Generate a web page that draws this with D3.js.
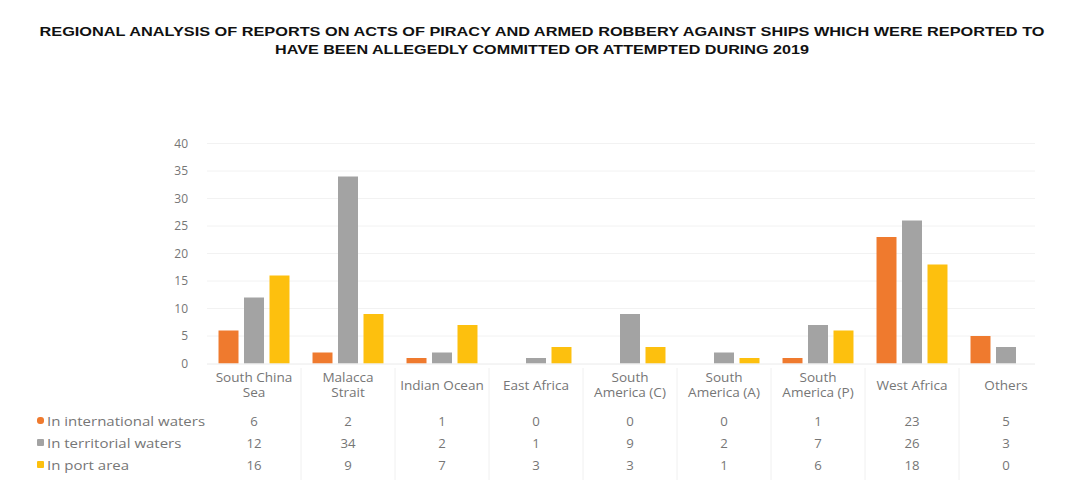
<!DOCTYPE html>
<html>
<head>
<meta charset="utf-8">
<script src="https://cdn.jsdelivr.net/npm/d3@7"></script>
<style>
  html, body { margin: 0; padding: 0; background: #fff; }
  svg { display: block; }
  .title { font-family: "Liberation Sans Narrow", "Arial Narrow", "Liberation Sans", sans-serif; font-weight: bold; font-size: 13px; fill: #111; }
  .lbl { font-family: "Open Sans", "Liberation Sans", sans-serif; font-size: 12px; fill: #767676; }
</style>
</head>
<body>
<svg id="chart" width="1072" height="500"></svg>
<script>
// Regions (categories) and incident counts per location type
const categories = ["South China Sea", "Malacca Strait", "Indian Ocean", "East Africa",
  "South America (C)", "South America (A)", "South America (P)", "West Africa", "Others"];
const categoryLines = [["South China", "Sea"], ["Malacca", "Strait"], ["Indian Ocean"], ["East Africa"],
  ["South", "America (C)"], ["South", "America (A)"], ["South", "America (P)"], ["West Africa"], ["Others"]];
const seriesNames = ["In international waters", "In territorial waters", "In port area"];
const international = [6, 2, 1, 0, 0, 0, 1, 23, 5];
const territorial = [12, 34, 2, 1, 9, 2, 7, 26, 3];
const portArea = [16, 9, 7, 3, 3, 1, 6, 18, 0];
const yTicks = [0, 5, 10, 15, 20, 25, 30, 35, 40];
const titleLines = [
  "REGIONAL ANALYSIS OF REPORTS ON ACTS OF PIRACY AND ARMED ROBBERY AGAINST SHIPS WHICH WERE REPORTED TO",
  "HAVE BEEN ALLEGEDLY COMMITTED OR ATTEMPTED DURING 2019"
];

const series = [international, territorial, portArea];
const colors = ["#ef7a2e", "#a3a3a3", "#fdc00e"];

const svg = d3.select("#chart");

// Text drawn with a slight horizontal stretch
function label(parent, x, y, txt, anchor, sx) {
  parent.append("text").attr("class", "lbl")
    .attr("transform", `translate(${x},${y}) scale(${sx},1)`)
    .attr("text-anchor", anchor).text(txt);
}

// Title
const titleY = [36, 54];
const titleW = [1005, 534];
titleLines.forEach((t, i) => {
  svg.append("text").attr("class", "title")
    .attr("x", 542).attr("y", titleY[i])
    .attr("text-anchor", "middle")
    .attr("textLength", titleW[i]).attr("lengthAdjust", "spacingAndGlyphs")
    .text(t);
});

// Scales
const left = 207, right = 1053;
const x0 = d3.scaleBand().domain(categories).range([left, right]).paddingInner(0.245).paddingOuter(0.1225);
const x1 = d3.scaleBand().domain(d3.range(3)).range([0, x0.bandwidth()]).paddingInner(0.216);
const y = d3.scaleLinear().domain([0, 40]).range([363.5, 143.5]);

// Gridlines
svg.append("g").selectAll("line").data(yTicks.filter(d => d > 0)).join("line")
  .attr("x1", left).attr("x2", 1035)
  .attr("y1", d => y(d)).attr("y2", d => y(d))
  .attr("stroke", "#f2f2f2").attr("stroke-width", 1);

// Y axis tick labels
const yAxis = d3.axisLeft(y).tickValues(yTicks).tickSize(0).tickPadding(0);
const yg = svg.append("g").attr("transform", "translate(188,0)").call(yAxis);
yg.select(".domain").remove();
yg.selectAll("text").attr("class", "lbl").attr("fill", null).style("font-size", "12px");

// Bars
const groups = svg.append("g").selectAll("g").data(categories).join("g")
  .attr("transform", d => `translate(${x0(d)},0)`);
groups.selectAll("rect")
  .data((d, ci) => series.map((s, si) => ({ si, v: s[ci] })))
  .join("rect")
  .attr("x", d => x1(d.si))
  .attr("width", x1.bandwidth())
  .attr("y", d => y(d.v))
  .attr("height", d => y(0) - y(d.v))
  .attr("fill", d => colors[d.si]);

// Baseline
svg.append("line").attr("x1", left).attr("x2", 1035)
  .attr("y1", y(0) + 0.5).attr("y2", y(0) + 0.5).attr("stroke", "#eaeaea");

// Data table: vertical separators
const step = x0.step();
const boundaries = d3.range(1, categories.length).map(i => left + i * step);
svg.append("g").selectAll("line").data(boundaries).join("line")
  .attr("x1", d => d).attr("x2", d => d)
  .attr("y1", 368).attr("y2", 480)
  .attr("stroke", "#f0f0f0");

// Category labels
categories.forEach((c, i) => {
  const cx = x0(c) + x0.bandwidth() / 2;
  const lines = categoryLines[i];
  const y0 = lines.length === 2 ? 382 : 390;
  lines.forEach((ln, j) => label(svg, cx, y0 + j * 15, ln, "middle", 1.13));
});

// Table rows
const rowY = [426, 448, 470];
series.forEach((s, si) => {
  svg.append("rect").attr("x", 37).attr("y", rowY[si] - 9).attr("width", 7).attr("height", 7)
    .attr("rx", si === 0 ? 3 : 1).attr("fill", colors[si]);
  label(svg, 47, rowY[si], seriesNames[si], "start", 1.25);
  categories.forEach((c, ci) => {
    label(svg, x0(c) + x0.bandwidth() / 2, rowY[si], s[ci], "middle", 1.1);
  });
});
</script>
</body>
</html>
